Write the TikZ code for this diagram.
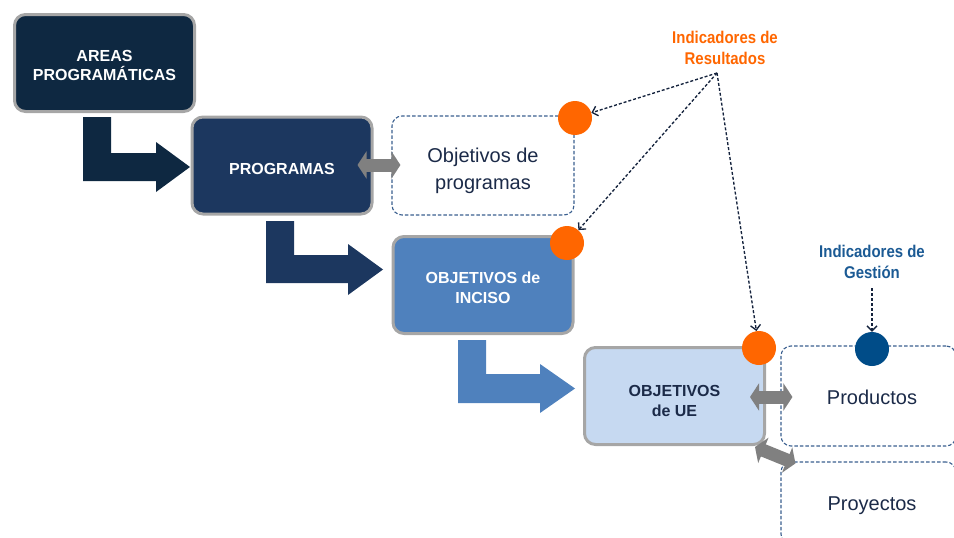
\documentclass[tikz,border=0pt]{standalone}
\usepackage{fontspec}
\setmainfont{Liberation Sans}
\newfontfamily\condfont[FakeStretch=0.88]{Liberation Sans}
\usetikzlibrary{arrows.meta,calc}
\definecolor{navyA}{HTML}{0E2841}
\definecolor{navyB}{HTML}{1C375F}
\definecolor{blueC}{HTML}{4F81BD}
\definecolor{blueD}{HTML}{C6D9F1}
\definecolor{borderG}{HTML}{A6A6A6}
\definecolor{dashB}{HTML}{3A5F8F}
\definecolor{txtD}{HTML}{1B2A48}
\definecolor{orangeI}{HTML}{FF6600}
\definecolor{blueI}{HTML}{004C88}
\definecolor{blueT}{HTML}{1B5A94}
\definecolor{grayA}{HTML}{808080}
\definecolor{lineD}{HTML}{15233D}
\tikzset{
  mainbox/.style={draw=borderG, line width=3pt, rounded corners=11pt,
    minimum width=180pt, minimum height=97pt, inner sep=0pt},
  boxtext/.style={align=center, inner sep=0pt,
    font=\fontsize{16}{19.5}\selectfont\bfseries},
  dashbox/.style={draw=dashB, line width=1.1pt, dash pattern=on 3.5pt off 2pt,
    rounded corners=10pt, inner sep=0pt},
  dashtext/.style={align=center, inner sep=0pt,
    font=\fontsize{20}{26.5}\selectfont, text=txtD},
  dot/.style={circle, minimum size=34pt, inner sep=0pt},
  dblarrow/.style={draw=grayA, line width=13pt,
    {Triangle[width=27pt,length=9pt]}-{Triangle[width=27pt,length=9pt]}},
  indarrow/.style={draw=lineD, line width=1.35pt, dash pattern=on 3pt off 2pt,
    -{Straight Barb[length=5pt,width=10pt]}},
  indtext/.style={align=center, font=\condfont\fontsize{17}{21}\selectfont\bfseries}
}
\begin{document}
\begin{tikzpicture}[x=1pt,y=-1pt]
\useasboundingbox (0,0) rectangle (954,538);
\clip (0,0) rectangle (954,538);

% bent arrows
\fill[navyA] (83,117) -- (111,117) -- (111,153) -- (156,153) -- (156,142) -- (190,167)
  -- (156,192) -- (156,181) -- (83,181) -- cycle;
\fill[navyB] (266,221) -- (294,221) -- (294,255) -- (348,255) -- (348,244) -- (383,269.5)
  -- (348,295) -- (348,283) -- (266,283) -- cycle;
\fill[blueC] (458,340) -- (486,340) -- (486,374) -- (540,374) -- (540,364) -- (575,388.5)
  -- (540,413) -- (540,403) -- (458,403) -- cycle;

% main boxes
\node[mainbox, fill=navyA] (areas) at (104.5,63) {};
\node[mainbox, fill=navyB] (prog) at (282,165.5) {};
\node[mainbox, fill=blueC] (inc) at (483,285) {};
\node[mainbox, fill=blueD] (ue) at (674.5,396) {};
\node[boxtext, text=white] (areasT) at (104.5,65.5) {AREAS\\PROGRAMÁTICAS};
\node[boxtext, text=white] (progT) at (282,168.5) {PROGRAMAS};
\node[boxtext, text=white] (incT) at (483,288) {OBJETIVOS de\\INCISO};
\node[boxtext, text=txtD] (ueT) at (674.5,401) {OBJETIVOS\\de UE};

% dashed boxes
\node[dashbox, minimum width=182pt, minimum height=99pt] (objp) at (483,165.5) {};
\node[dashbox, minimum width=175pt, minimum height=100pt] (prod) at (868.5,396) {};
\node[dashbox, minimum width=175pt, minimum height=82pt] (proy) at (868.5,503) {};
\node[dashtext] (objpT) at (483,171) {Objetivos de\\programas};
\node[dashtext] (prodT) at (872,397) {Productos};
\node[dashtext] (proyT) at (872,506) {Proyectos};

% gray double arrows
\draw[dblarrow] ($(prog.east)+(-16,-0.5)$) -- ($(objp.west)+(9,-0.5)$);
\draw[dblarrow] ($(ue.east)+(-16,1)$) -- ($(prod.west)+(12,1)$);
\draw[dblarrow] ($(ue.south east)+(-11,1)$) -- ($(proy.north west)+(15,2)$);

% indicator dots
\node[dot, fill=orangeI] (c1) at (575,118) {};
\node[dot, fill=orangeI] (c2) at (567,243) {};
\node[dot, fill=orangeI] (c3) at (759,348) {};
\node[dot, fill=blueI] (c4) at (872,349) {};

% indicator labels
\node[indtext, text=orangeI] (indr) at (725,48) {Indicadores de\\Resultados};
\node[indtext, text=blueT] (indg) at (872,262) {Indicadores de\\Gestión};
\coordinate (ir) at (717,73);
\coordinate (ig) at (872,288);

\draw[indarrow] (ir) -- (c1);
\draw[indarrow] (ir) -- (c2);
\draw[indarrow] (ir) -- (c3);
\draw[indarrow] (ig) -- (c4);
\end{tikzpicture}
\end{document}
